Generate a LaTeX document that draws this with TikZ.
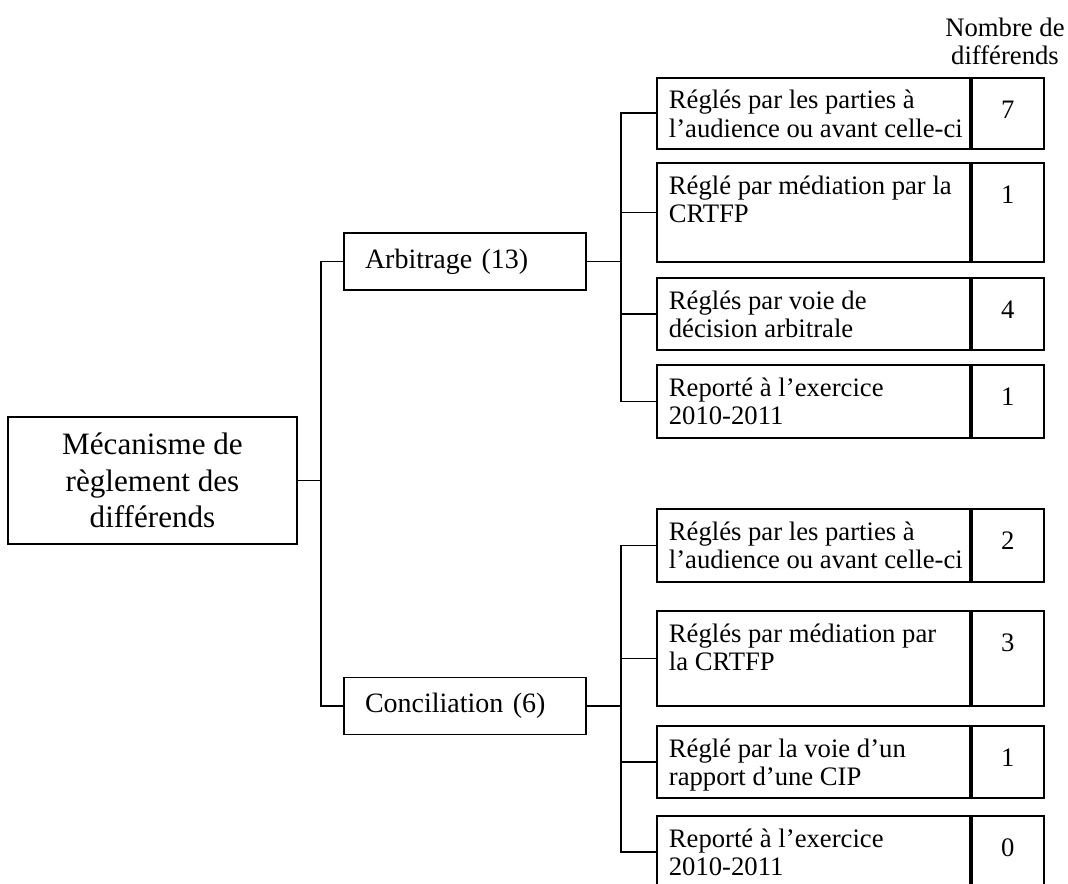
\documentclass[tikz,border=0pt]{standalone}
\usepackage{fontspec}
\setmainfont{Liberation Serif}
\usepackage{tikz}
\usetikzlibrary{positioning}

\begin{document}
\begin{tikzpicture}[
    x=0.45pt, y=-0.45pt,
    rootbox/.style={rectangle, draw, line width=0.8pt, minimum width=130pt, minimum height=57.15pt, align=center, font=\fontsize{14}{16.4}\selectfont},
    groupbox/.style={rectangle, draw, line width=0.8pt, text width=90pt, inner xsep=9.45pt, inner ysep=0pt, minimum height=25.65pt, align=left, font=\fontsize{12.6}{14}\selectfont},
    casebox/.style={rectangle, draw, line width=0.8pt, anchor=north west, inner sep=0pt, font=\fontsize{12}{13}\selectfont,
        execute at begin node={\begin{minipage}[t][#1][t]{140.85pt}\raggedright\leftskip=5.4pt\vspace{4.9pt}\strut},
        execute at end node={\end{minipage}}},
    countbox/.style={rectangle, draw, line width=0.8pt, inner sep=0pt, font=\fontsize{12}{13}\selectfont,
        execute at begin node={\begin{minipage}[t][#1][t]{32.4pt}\centering\vspace{9.35pt}\strut},
        execute at end node={\end{minipage}}},
    link/.style={line width=0.8pt}
]
    \useasboundingbox (0,0) rectangle (1068,884);

    \node[font=\fontsize{12}{12.2}\selectfont, align=center, anchor=north, inner sep=0pt] (head) at (1005,18) {Nombre de\\différends};

    \node[rootbox] (root) at (152.5,480.5) {Mécanisme de\\règlement des\\différends};
    \node[groupbox] (arb) at (465,261.5) {Arbitrage (13)};
    \node[groupbox] (conc) at (465,706) {Conciliation (6)};

    % arbitrage
    \node[casebox=31.95pt] (a1) at (656,77) {Réglés par les parties à\\l’audience ou avant celle-ci};
    \node[countbox=31.95pt, right=0pt of a1] (a1n) {7};
    \node[casebox=44.55pt] (a2) at (656,162) {Réglé par médiation par la\\CRTFP};
    \node[countbox=44.55pt, right=0pt of a2] (a2n) {1};
    \node[casebox=32.4pt] (a3) at (656,277) {Réglés par voie de\\décision arbitrale};
    \node[countbox=32.4pt, right=0pt of a3] (a3n) {4};
    \node[casebox=32.85pt] (a4) at (656,364) {Reporté à l’exercice\\2010-2011};
    \node[countbox=32.85pt, right=0pt of a4] (a4n) {1};

    % conciliation
    \node[casebox=32.85pt] (c1) at (656,508) {Réglés par les parties à\\l’audience ou avant celle-ci};
    \node[countbox=32.85pt, right=0pt of c1] (c1n) {2};
    \node[casebox=42.75pt] (c2) at (656,610) {Réglés par médiation par\\la CRTFP};
    \node[countbox=42.75pt, right=0pt of c2] (c2n) {3};
    \node[casebox=32.4pt] (c3) at (656,725) {Réglé par la voie d’un\\rapport d’une CIP};
    \node[countbox=32.4pt, right=0pt of c3] (c3n) {1};
    \node[casebox=32.4pt] (c4) at (656,815) {Reporté à l’exercice\\2010-2011};
    \node[countbox=32.4pt, right=0pt of c4] (c4n) {0};

    \coordinate (split) at (321,480.5);
    \coordinate (arbsplit) at (621,261.5);
    \coordinate (concsplit) at (621,706);

    \draw[link] (root) -- (split);
    \draw[link] (split) |- (arb);
    \draw[link] (split) |- (conc);
    \draw[link] (arb) -- (arbsplit);
    \draw[link] (conc) -- (concsplit);
    \foreach \n in {a1,a2,a3,a4}
        \draw[link] (arbsplit) |- (\n);
    \foreach \n in {c1,c2,c3,c4}
        \draw[link] (concsplit) |- (\n);
\end{tikzpicture}
\end{document}
